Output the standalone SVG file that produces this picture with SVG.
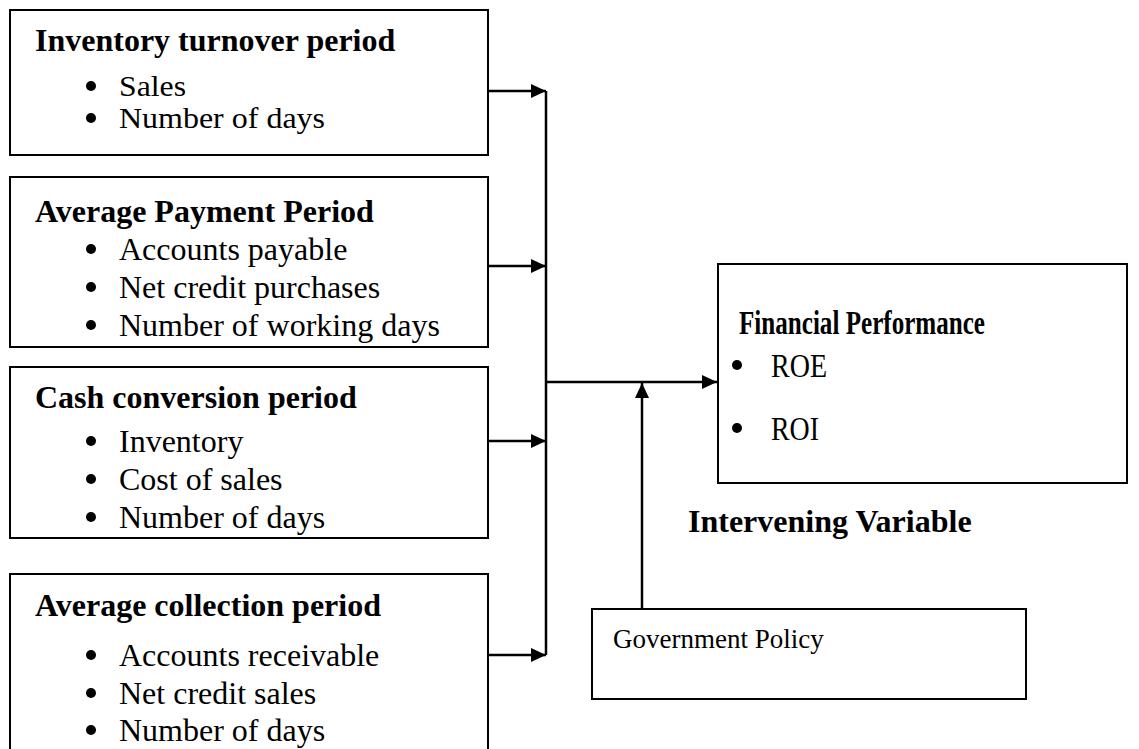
<svg xmlns="http://www.w3.org/2000/svg" width="1139" height="749" viewBox="0 0 1139 749">
<style>
.box{fill:#fff;stroke:#000;stroke-width:2}
.t{font-family:"Liberation Serif","Times New Roman",serif;font-size:32px;fill:#000}
.b{font-weight:bold}
.s29{font-size:29px}
.ln{stroke:#000;stroke-width:2.5;fill:none}
</style>
<defs>
<marker id="ah" markerWidth="15" markerHeight="14" refX="15" refY="7" orient="auto" markerUnits="userSpaceOnUse">
<path d="M0,0 L15,7 L0,14 Z" fill="#000"/>
</marker>
<clipPath id="c2"><rect x="9" y="177" width="480" height="170"/></clipPath>
</defs>
<rect width="1139" height="749" fill="#fff"/>
<g id="inventory-turnover">
<rect class="box" x="10" y="10" width="478" height="145"/>
<text class="t b" x="35" y="51">Inventory turnover period</text>
<circle cx="91" cy="86" r="5"/><text class="t s29" x="119" y="96" textLength="67" lengthAdjust="spacingAndGlyphs">Sales</text>
<circle cx="91" cy="118" r="5"/><text class="t s29" x="119" y="128" textLength="206" lengthAdjust="spacingAndGlyphs">Number of days</text>
</g>
<g id="average-payment">
<rect class="box" x="10" y="177" width="478" height="170"/>
<g clip-path="url(#c2)">
<text class="t b" x="35" y="222">Average Payment Period</text>
<circle cx="91" cy="249" r="5"/><text class="t" x="119" y="260">Accounts payable</text>
<circle cx="91" cy="287" r="5"/><text class="t" x="119" y="298">Net credit purchases</text>
<circle cx="91" cy="325" r="5"/><text class="t" x="119" y="336">Number of working days</text>
</g>
</g>
<g id="cash-conversion">
<rect class="box" x="10" y="367" width="478" height="171"/>
<text class="t b" x="35" y="408">Cash conversion period</text>
<circle cx="91" cy="441" r="5"/><text class="t" x="119" y="452">Inventory</text>
<circle cx="91" cy="479" r="5"/><text class="t" x="119" y="490">Cost of sales</text>
<circle cx="91" cy="517" r="5"/><text class="t" x="119" y="528">Number of days</text>
</g>
<g id="average-collection">
<rect class="box" x="10" y="574" width="478" height="200"/>
<text class="t b" x="35" y="616">Average collection period</text>
<circle cx="91" cy="655" r="5"/><text class="t" x="119" y="666">Accounts receivable</text>
<circle cx="91" cy="693" r="5"/><text class="t" x="119" y="704">Net credit sales</text>
<circle cx="91" cy="730" r="5"/><text class="t" x="119" y="741">Number of days</text>
</g>
<g id="financial-performance">
<rect class="box" x="718" y="264" width="409" height="219"/>
<text class="t b" x="739" y="334" style="font-size:34px" textLength="246" lengthAdjust="spacingAndGlyphs">Financial Performance</text>
<circle cx="737" cy="365" r="5"/><text class="t" x="771" y="377" style="font-size:33px" textLength="56" lengthAdjust="spacingAndGlyphs">ROE</text>
<circle cx="737" cy="428" r="5"/><text class="t" x="771" y="440" style="font-size:33px" textLength="48" lengthAdjust="spacingAndGlyphs">ROI</text>
</g>
<g id="intervening-label">
<text class="t b" x="688" y="532">Intervening Variable</text>
</g>
<g id="government-policy">
<rect class="box" x="592" y="609" width="434" height="90"/>
<text class="t" x="613" y="648" style="font-size:27px">Government Policy</text>
</g>
<g id="connectors">
<line class="ln" x1="546" y1="91" x2="546" y2="655"/>
<line class="ln" x1="488" y1="91" x2="546" y2="91" marker-end="url(#ah)"/>
<line class="ln" x1="488" y1="266" x2="546" y2="266" marker-end="url(#ah)"/>
<line class="ln" x1="488" y1="441" x2="546" y2="441" marker-end="url(#ah)"/>
<line class="ln" x1="488" y1="655" x2="546" y2="655" marker-end="url(#ah)"/>
<line class="ln" x1="546" y1="382" x2="717" y2="382" marker-end="url(#ah)"/>
<line class="ln" x1="642" y1="609" x2="642" y2="383" marker-end="url(#ah)"/>
</g>
</svg>
